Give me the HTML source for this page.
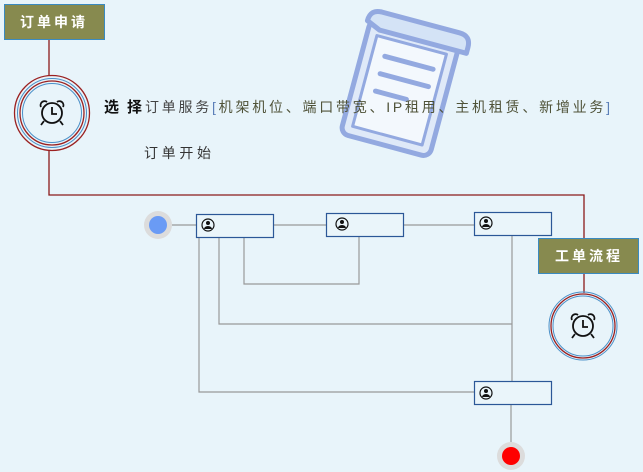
<!DOCTYPE html>
<html><head><meta charset="utf-8"><style>
html,body{margin:0;padding:0;background:#e8f4fa;}
svg{display:block}
</style></head><body>
<svg width="643" height="472" viewBox="0 0 643 472" xmlns="http://www.w3.org/2000/svg" font-family="Liberation Sans, Noto Sans CJK SC, sans-serif">
<rect width="643" height="472" fill="#e8f4fa"/>
<!-- document icon -->
<g transform="rotate(15 403 85)" stroke="#93a9e0" stroke-width="5" stroke-linejoin="round">
  <rect x="355" y="30" width="92" height="118" rx="8" fill="#dfe9f8"/>
  <rect x="365" y="44" width="72" height="94" fill="#f3f8fd" stroke-width="3"/>
  <path d="M352 32 q0 -12 12 -12 h80 q12 0 12 12 v6 h-90 z" fill="#d4e3f6"/>
  <line x1="378" y1="62" x2="428" y2="62" stroke-linecap="round"/>
  <line x1="378" y1="80" x2="428" y2="80" stroke-linecap="round"/>
  <line x1="378" y1="98" x2="410" y2="98" stroke-linecap="round"/>
</g>
<!-- red lines -->
<g stroke="#8b1a1a" stroke-width="1.3" fill="none">
  <line x1="49" y1="39" x2="49" y2="75"/>
  <polyline points="49,151 49,195 584,195 584,238"/>
  <line x1="584" y1="273" x2="584" y2="293"/>
</g>
<!-- gray lines -->
<g stroke="#999" stroke-width="1.2" fill="none">
  <line x1="172" y1="225" x2="196" y2="225"/>
  <line x1="273" y1="225" x2="326" y2="225"/>
  <line x1="403" y1="225" x2="474" y2="225"/>
  <polyline points="244,237 244,284 359,284 359,236"/>
  <polyline points="219,237 219,324 512,324"/>
  <line x1="512" y1="235" x2="512" y2="381"/>
  <polyline points="199,237 199,392 474,392"/>
  <line x1="511" y1="404" x2="511" y2="443"/>
</g>
<!-- labels -->
<rect x="4.5" y="4.5" width="100" height="35" fill="#878a4f" stroke="#3a8ac0"/>
<text x="54" y="27" text-anchor="middle" fill="#fff" font-size="14" font-weight="bold" letter-spacing="3">订单申请</text>
<rect x="538.5" y="238.5" width="100" height="35" fill="#878a4f" stroke="#3a8ac0"/>
<text x="589" y="261" text-anchor="middle" fill="#fff" font-size="14" font-weight="bold" letter-spacing="3">工单流程</text>
<!-- clock circle 1 -->
<g fill="none">
  <circle cx="52" cy="113" r="37.5" stroke="#9b2020" stroke-width="1.3"/>
  <circle cx="52" cy="113" r="34.5" stroke="#4a90c8" stroke-width="1"/>
  <circle cx="52" cy="113" r="32" stroke="#9b2020" stroke-width="1.3"/>
  <circle cx="52" cy="113" r="29.5" stroke="#4a90c8" stroke-width="1"/>
</g>
<g fill="none" stroke="#111" stroke-width="1.8">
  <circle cx="52" cy="113" r="10"/>
  <polyline points="52,107 52,114 57,114"/>
  <path d="M41 107 a4 4 0 0 1 6 -5"/><path d="M63 107 a4 4 0 0 0 -6 -5"/>
  <line x1="44" y1="121" x2="41" y2="125"/><line x1="60" y1="121" x2="63" y2="125"/>
</g>
<!-- clock circle 2 -->
<g fill="none">
  <circle cx="583" cy="326" r="34" stroke="#4a90c8" stroke-width="1"/>
  <circle cx="583" cy="326" r="32" stroke="#9b2020" stroke-width="1.3"/>
  <circle cx="583" cy="326" r="30" stroke="#4a90c8" stroke-width="1"/>
</g>
<g fill="none" stroke="#111" stroke-width="1.8">
  <circle cx="583" cy="326" r="10"/>
  <polyline points="583,320 583,327 588,327"/>
  <path d="M572 320 a4 4 0 0 1 6 -5"/><path d="M594 320 a4 4 0 0 0 -6 -5"/>
  <line x1="575" y1="334" x2="572" y2="338"/><line x1="591" y1="334" x2="594" y2="338"/>
</g>
<!-- text -->
<text x="104" y="112" font-size="15" font-weight="bold" fill="#111" textLength="38">选择</text>
<text x="145" y="112" font-size="14" fill="#444" textLength="465" lengthAdjust="spacing">订单服务<tspan fill="#5b7fb8">[</tspan><tspan fill="#4f5238">机架机位、端口带宽、IP租用、主机租赁、新增业务</tspan><tspan fill="#5b7fb8">]</tspan></text>
<text x="144" y="158" font-size="14" fill="#333" textLength="67" lengthAdjust="spacing">订单开始</text>
<!-- start/end -->
<circle cx="158" cy="225" r="14" fill="#dcdcdc"/>
<circle cx="158" cy="225" r="9" fill="#6a9bf5"/>
<circle cx="511" cy="456" r="14" fill="#dcdcdc"/>
<circle cx="511" cy="456" r="9" fill="#ff0000"/>
<!-- boxes -->
<g fill="#eaf5fa" stroke="#2b5797" stroke-width="1.2">
  <rect x="196.5" y="214.5" width="77" height="23"/>
  <rect x="326.5" y="213.5" width="77" height="23"/>
  <rect x="474.5" y="212.5" width="77" height="23"/>
  <rect x="474.5" y="381.5" width="77" height="23"/>
</g>
<g id="u">
</g>
<g fill="none" stroke="#111" stroke-width="1.2">
  <circle cx="208" cy="225" r="6"/><circle cx="342" cy="224" r="6"/><circle cx="486" cy="223" r="6"/><circle cx="486" cy="393" r="6"/>
</g>
<g fill="#111">
  <circle cx="208" cy="223" r="2"/><path d="M204 229 a4 3 0 0 1 8 0z"/>
  <circle cx="342" cy="222" r="2"/><path d="M338 228 a4 3 0 0 1 8 0z"/>
  <circle cx="486" cy="221" r="2"/><path d="M482 227 a4 3 0 0 1 8 0z"/>
  <circle cx="486" cy="391" r="2"/><path d="M482 397 a4 3 0 0 1 8 0z"/>
</g>
</svg>
</body></html>
